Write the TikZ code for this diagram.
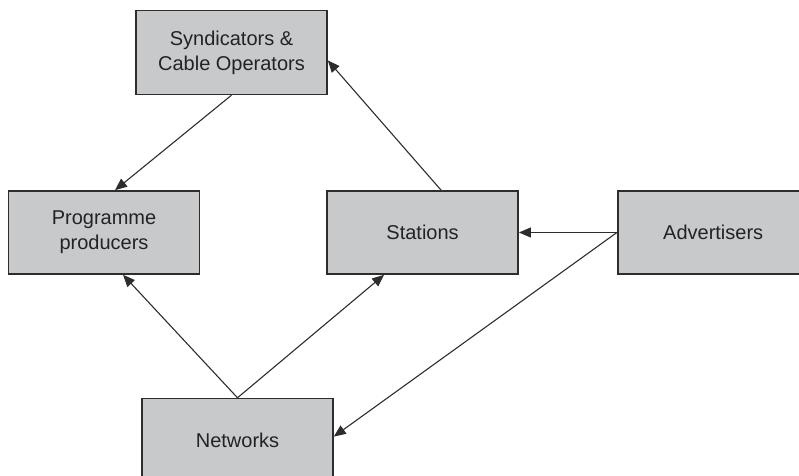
\documentclass[tikz,border=0pt]{standalone}
\usepackage{fontspec}
\setmainfont{Liberation Sans}
\usepackage{tikz}
\usetikzlibrary{arrows.meta,positioning}
\definecolor{BoxGray}{RGB}{200,201,203}
\definecolor{EdgeGray}{RGB}{45,45,45}
\definecolor{InkGray}{RGB}{35,35,35}

\begin{document}
\begin{tikzpicture}[
  box/.style={
    draw=EdgeGray,fill=BoxGray,line width=0.8pt,align=center,
    minimum width=95.5pt,minimum height=41.5pt,inner sep=2pt,
    text=InkGray,font=\fontsize{10}{12.5}\selectfont
  },
  arr/.style={-{Triangle[length=6pt,width=5pt]},line width=0.55pt,EdgeGray}
]
  \useasboundingbox (-52pt,-121.75pt) rectangle (347.5pt,116.25pt);
  \node[box] (producers) at (0,0) {Programme\\producers};
  \node[box,right=63pt of producers] (stations) {Stations};
  \node[box,right=49pt of stations] (advertisers) {Advertisers};
  \node[box,minimum height=42pt,above=47.5pt of producers,xshift=63.75pt] (syndicators)
    {Syndicators \&\\Cable Operators};
  \node[box,below=61.5pt of producers,xshift=66.75pt] (networks) {Networks};

  \draw[arr] (syndicators.south) -- ([xshift=5.5pt]producers.north);
  \draw[arr] ([xshift=9.25pt]stations.north) -- ([yshift=-4pt]syndicators.east);
  \draw[arr] (advertisers.west) -- (stations.east);
  \draw[arr] (advertisers.west) -- ([yshift=1.75pt]networks.east);
  \draw[arr] (networks.north) -- ([xshift=9.5pt]producers.south);
  \draw[arr] (networks.north) -- ([xshift=-19.25pt]stations.south);
\end{tikzpicture}
\end{document}
